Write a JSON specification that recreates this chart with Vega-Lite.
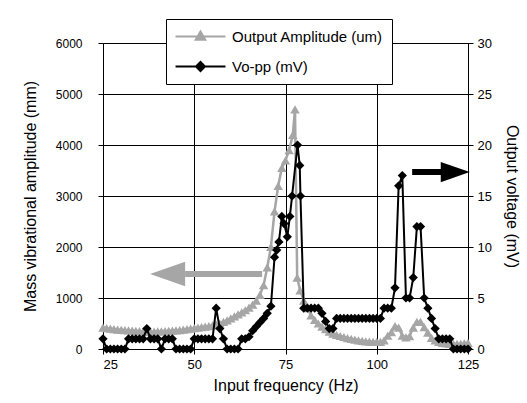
{
  "$schema": "https://vega.github.io/schema/vega-lite/v6.json",
  "width": 365,
  "height": 306,
  "autosize": {"type": "none"},
  "padding": {"left": 103, "top": 43, "right": 59, "bottom": 54},
  "background": "white",
  "config": {
    "font": "Liberation Sans",
    "view": {"stroke": null},
    "axis": {
      "labelFont": "Liberation Sans",
      "titleFont": "Liberation Sans",
      "labelColor": "black",
      "titleColor": "black",
      "titleFontWeight": "normal",
      "domainColor": "black",
      "tickColor": "black",
      "gridColor": "black",
      "gridOpacity": 1,
      "domainWidth": 1,
      "tickSize": 5
    }
  },
  "datasets": {
    "amp": [
      {"freq": 25, "value": 420}, {"freq": 26, "value": 410}, {"freq": 27, "value": 400}, {"freq": 28, "value": 390},
      {"freq": 29, "value": 380}, {"freq": 30, "value": 375}, {"freq": 31, "value": 370}, {"freq": 32, "value": 365},
      {"freq": 33, "value": 360}, {"freq": 34, "value": 355}, {"freq": 35, "value": 350}, {"freq": 36, "value": 345},
      {"freq": 37, "value": 340}, {"freq": 38, "value": 340}, {"freq": 39, "value": 340}, {"freq": 40, "value": 345},
      {"freq": 41, "value": 345}, {"freq": 42, "value": 350}, {"freq": 43, "value": 355}, {"freq": 44, "value": 360},
      {"freq": 45, "value": 365}, {"freq": 46, "value": 370}, {"freq": 47, "value": 380}, {"freq": 48, "value": 390},
      {"freq": 49, "value": 400}, {"freq": 50, "value": 410}, {"freq": 51, "value": 420}, {"freq": 52, "value": 430},
      {"freq": 53, "value": 440}, {"freq": 54, "value": 450}, {"freq": 55, "value": 465}, {"freq": 56, "value": 480},
      {"freq": 57, "value": 500}, {"freq": 58, "value": 530}, {"freq": 59, "value": 560}, {"freq": 60, "value": 600},
      {"freq": 61, "value": 640}, {"freq": 62, "value": 680}, {"freq": 63, "value": 720}, {"freq": 64, "value": 760},
      {"freq": 65, "value": 810}, {"freq": 66, "value": 870}, {"freq": 67, "value": 950}, {"freq": 68, "value": 1060},
      {"freq": 69, "value": 1250}, {"freq": 70, "value": 1600}, {"freq": 71, "value": 2000}, {"freq": 72, "value": 2700},
      {"freq": 73, "value": 3200}, {"freq": 74, "value": 3550}, {"freq": 75, "value": 3700}, {"freq": 76, "value": 3900},
      {"freq": 77, "value": 4200}, {"freq": 77.6, "value": 4700}, {"freq": 78.2, "value": 1400}, {"freq": 79, "value": 1150},
      {"freq": 80, "value": 950}, {"freq": 81, "value": 800}, {"freq": 82, "value": 660}, {"freq": 83, "value": 570},
      {"freq": 84, "value": 500}, {"freq": 85, "value": 440}, {"freq": 86, "value": 390}, {"freq": 87, "value": 340},
      {"freq": 88, "value": 300}, {"freq": 89, "value": 275}, {"freq": 90, "value": 255}, {"freq": 91, "value": 235},
      {"freq": 92, "value": 215}, {"freq": 93, "value": 200}, {"freq": 94, "value": 185}, {"freq": 95, "value": 170},
      {"freq": 96, "value": 160}, {"freq": 97, "value": 150}, {"freq": 98, "value": 145}, {"freq": 99, "value": 140},
      {"freq": 100, "value": 140}, {"freq": 101, "value": 140}, {"freq": 102, "value": 170}, {"freq": 103, "value": 260},
      {"freq": 104, "value": 330}, {"freq": 105, "value": 450}, {"freq": 106, "value": 420}, {"freq": 107, "value": 260},
      {"freq": 108, "value": 230}, {"freq": 109, "value": 250}, {"freq": 110, "value": 420}, {"freq": 111, "value": 530},
      {"freq": 112, "value": 530}, {"freq": 113, "value": 430}, {"freq": 114, "value": 320}, {"freq": 115, "value": 220},
      {"freq": 116, "value": 170}, {"freq": 117, "value": 140}, {"freq": 118, "value": 120}, {"freq": 119, "value": 110},
      {"freq": 120, "value": 100}, {"freq": 121, "value": 100}, {"freq": 122, "value": 100}, {"freq": 123, "value": 100},
      {"freq": 124, "value": 110}, {"freq": 125, "value": 120}
    ],
    "vpp": [
      {"freq": 25, "value": 1}, {"freq": 26, "value": 0}, {"freq": 27, "value": 0}, {"freq": 28, "value": 0},
      {"freq": 29, "value": 0}, {"freq": 30, "value": 0}, {"freq": 31, "value": 0}, {"freq": 32, "value": 1},
      {"freq": 33, "value": 1}, {"freq": 34, "value": 1}, {"freq": 35, "value": 1}, {"freq": 36, "value": 1},
      {"freq": 37, "value": 2}, {"freq": 38, "value": 1}, {"freq": 39, "value": 1}, {"freq": 40, "value": 1},
      {"freq": 41, "value": 0}, {"freq": 42, "value": 1}, {"freq": 43, "value": 1}, {"freq": 44, "value": 1},
      {"freq": 45, "value": 0}, {"freq": 46, "value": 0}, {"freq": 47, "value": 0}, {"freq": 48, "value": 0},
      {"freq": 49, "value": 0}, {"freq": 50, "value": 1}, {"freq": 51, "value": 1}, {"freq": 52, "value": 1},
      {"freq": 53, "value": 1}, {"freq": 54, "value": 1}, {"freq": 55, "value": 1}, {"freq": 56, "value": 4},
      {"freq": 57, "value": 2}, {"freq": 58, "value": 1}, {"freq": 59, "value": 0}, {"freq": 60, "value": 0},
      {"freq": 61, "value": 0}, {"freq": 62, "value": 0}, {"freq": 63, "value": 1}, {"freq": 64, "value": 1},
      {"freq": 65, "value": 1.2}, {"freq": 66, "value": 1.8}, {"freq": 67, "value": 2.2}, {"freq": 68, "value": 2.6},
      {"freq": 69, "value": 3}, {"freq": 70, "value": 3.5}, {"freq": 71, "value": 4.2}, {"freq": 72, "value": 9},
      {"freq": 72.6, "value": 9.7}, {"freq": 73.2, "value": 10.5}, {"freq": 74, "value": 13}, {"freq": 74.6, "value": 12.3},
      {"freq": 75.5, "value": 11}, {"freq": 76.2, "value": 13}, {"freq": 76.8, "value": 15}, {"freq": 78.3, "value": 20},
      {"freq": 78.9, "value": 18}, {"freq": 79.1, "value": 15}, {"freq": 80, "value": 4}, {"freq": 81, "value": 4},
      {"freq": 82, "value": 4}, {"freq": 83, "value": 4}, {"freq": 84, "value": 4}, {"freq": 85, "value": 3.5},
      {"freq": 86, "value": 2.7}, {"freq": 87, "value": 2}, {"freq": 88, "value": 2}, {"freq": 89, "value": 3},
      {"freq": 90, "value": 3}, {"freq": 91, "value": 3}, {"freq": 92, "value": 3}, {"freq": 93, "value": 3},
      {"freq": 94, "value": 3}, {"freq": 95, "value": 3}, {"freq": 96, "value": 3}, {"freq": 97, "value": 3},
      {"freq": 98, "value": 3}, {"freq": 99, "value": 3}, {"freq": 100, "value": 3}, {"freq": 101, "value": 3},
      {"freq": 102, "value": 4}, {"freq": 103, "value": 4}, {"freq": 104, "value": 4}, {"freq": 105, "value": 6},
      {"freq": 106, "value": 16}, {"freq": 107, "value": 17}, {"freq": 108, "value": 5}, {"freq": 109, "value": 5},
      {"freq": 110, "value": 7}, {"freq": 111, "value": 12}, {"freq": 112, "value": 12}, {"freq": 113, "value": 5},
      {"freq": 114, "value": 4}, {"freq": 115, "value": 3}, {"freq": 116, "value": 2}, {"freq": 117, "value": 1},
      {"freq": 118, "value": 1}, {"freq": 119, "value": 1}, {"freq": 120, "value": 1}, {"freq": 121, "value": 0},
      {"freq": 122, "value": 0}, {"freq": 123, "value": 0}, {"freq": 124, "value": 0}, {"freq": 125, "value": 0}
    ],
    "ampArrow": [{"freq": 47.5, "freq2": 68.6, "head": 42.7, "value": 1470}],
    "vppArrow": [{"freq": 109.7, "freq2": 118.6, "head": 121.5, "value": 17.35}]
  },
  "encoding": {
    "x": {
      "field": "freq",
      "type": "quantitative",
      "scale": {"domain": [25, 125], "nice": false, "zero": false},
      "axis": {
        "title": "Input frequency (Hz)",
        "values": [25, 50, 75, 100, 125],
        "format": "d",
        "grid": true,
        "labelFontSize": 13,
        "titleFontSize": 16,
        "labelPadding": 4,
        "titlePadding": 6,
        "labelAlign": {"condition": {"test": "datum.value === 25", "value": "left"}, "value": "center"}
      }
    }
  },
  "layer": [
    {
      "encoding": {
        "y": {
          "field": "value",
          "type": "quantitative",
          "scale": {"domain": [0, 6000], "nice": false},
          "axis": {
            "title": "Mass vibrational amplitude (mm)",
            "orient": "left",
            "values": [0, 1000, 2000, 3000, 4000, 5000, 6000],
            "format": "d",
            "grid": true,
            "labelFontSize": 12,
            "titleFontSize": 16,
            "labelPadding": 16,
            "titlePadding": 17
          }
        }
      },
      "layer": [
        {
          "data": {"name": "amp"},
          "transform": [{"calculate": "'Output Amplitude (um)'", "as": "series"}],
          "mark": {"type": "line", "strokeWidth": 2.5},
          "encoding": {
            "color": {
              "field": "series",
              "type": "nominal",
              "scale": {"domain": ["Output Amplitude (um)", "Vo-pp (mV)"], "range": ["#a6a6a6", "#000000"]},
              "legend": {
                "title": null,
                "orient": "none",
                "legendX": 63,
                "legendY": -24,
                "fillColor": "white",
                "strokeColor": "black",
                "padding": 9,
                "labelFont": "Liberation Sans",
                "labelFontSize": 15,
                "labelColor": "black",
                "labelOffset": 23,
                "symbolSize": 225,
                "symbolStrokeWidth": 2,
                "symbolOffset": 17,
                "rowPadding": 13,
                "symbolOpacity": 1,
                "encode": {
                  "symbols": {
                    "update": {
                      "shape": {"signal": "datum.value === 'Vo-pp (mV)' ? 'M-3.33,0H3.33M0,-0.6L0.6,0L0,0.6L-0.6,0Z' : 'M-3.33,0H3.33M0,-0.66L0.64,0.44H-0.64Z'"},
                      "fill": {"signal": "datum.value === 'Vo-pp (mV)' ? '#000000' : '#a6a6a6'"},
                      "stroke": {"signal": "datum.value === 'Vo-pp (mV)' ? '#000000' : '#a6a6a6'"},
                      "opacity": {"value": 1}
                    }
                  }
                }
              }
            }
          }
        },
        {
          "data": {"name": "amp"},
          "mark": {"type": "point", "shape": "triangle-up", "filled": true, "size": 90, "color": "#a6a6a6", "opacity": 1}
        },
        {
          "data": {"name": "ampArrow"},
          "mark": {"type": "rule", "strokeWidth": 6, "color": "#a6a6a6"},
          "encoding": {"x2": {"field": "freq2"}}
        },
        {
          "data": {"name": "ampArrow"},
          "mark": {"type": "point", "shape": "M1,-0.7L-1,0L1,0.7Z", "size": 1225, "filled": true, "color": "#a6a6a6", "opacity": 1},
          "encoding": {"x": {"field": "head", "type": "quantitative"}}
        }
      ]
    },
    {
      "encoding": {
        "y": {
          "field": "value",
          "type": "quantitative",
          "scale": {"domain": [0, 30], "nice": false},
          "axis": {
            "title": "Output voltage (mV)",
            "orient": "right",
            "values": [0, 5, 10, 15, 20, 25, 30],
            "format": "d",
            "grid": false,
            "labelFontSize": 13,
            "titleFontSize": 16,
            "labelPadding": 4,
            "titlePadding": 12
          }
        }
      },
      "layer": [
        {
          "data": {"name": "vpp"},
          "transform": [{"calculate": "'Vo-pp (mV)'", "as": "series"}],
          "mark": {"type": "line", "strokeWidth": 2},
          "encoding": {"color": {"field": "series", "type": "nominal"}}
        },
        {
          "data": {"name": "vpp"},
          "mark": {"type": "point", "shape": "diamond", "filled": true, "size": 85, "color": "#000000", "opacity": 1}
        },
        {
          "data": {"name": "vppArrow"},
          "mark": {"type": "rule", "strokeWidth": 6, "color": "#000000"},
          "encoding": {"x2": {"field": "freq2"}}
        },
        {
          "data": {"name": "vppArrow"},
          "mark": {"type": "point", "shape": "M-1,-0.7L1,0L-1,0.7Z", "size": 841, "filled": true, "color": "#000000", "opacity": 1},
          "encoding": {"x": {"field": "head", "type": "quantitative"}}
        }
      ]
    }
  ],
  "resolve": {"scale": {"y": "independent"}, "axis": {"y": "independent"}}
}
